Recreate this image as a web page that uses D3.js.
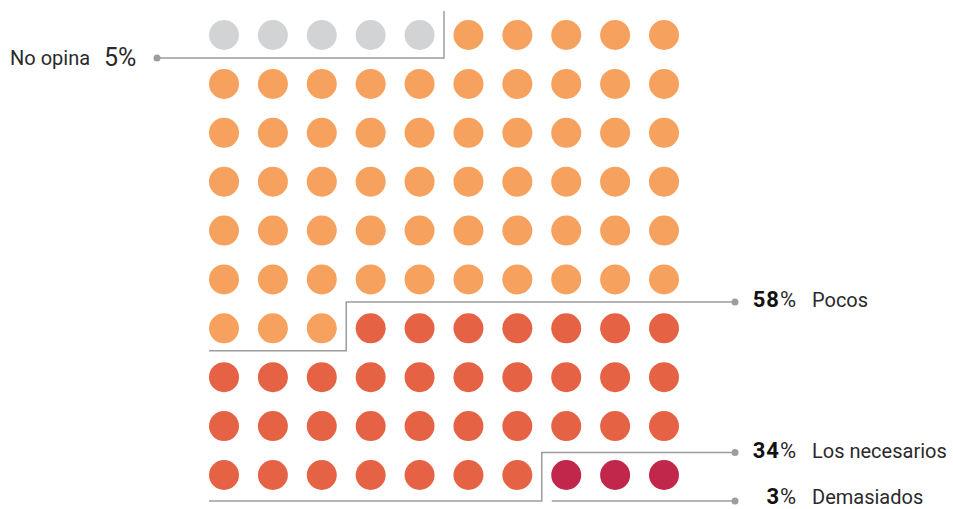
<!DOCTYPE html>
<html>
<head>
<meta charset="utf-8">
<script src="https://cdn.jsdelivr.net/npm/d3@7"></script>
<style>
  body { margin: 0; background: #fff; }
  svg text { font-family: Roboto, "DejaVu Sans", sans-serif; }
</style>
</head>
<body>
<div id="chart"></div>
<script>
// Chart data
const categories = ['No opina', 'Pocos', 'Los necesarios', 'Demasiados'];
const percentages = [5, 58, 34, 3];
const colors = ['#d1d3d4', '#f7a15e', '#e56244', '#c1264b'];
const gridSize = 10;

const width = 953, height = 509;

let svg = d3.select('#chart').append('svg')
    .attr('width', width)
    .attr('height', height);

// Point scales for the circle centres
let xScale = d3.scalePoint().domain(d3.range(gridSize)).range([224, 664]);
let yScale = d3.scalePoint().domain(d3.range(gridSize)).range([35, 475]);
let step = xScale.step();
let radius = 15;

// Build one cell per percent point
let cells = [];
let cum = 0;
categories.forEach((c, ci) => {
    for (let k = 0; k < percentages[ci]; k++) {
        let i = cum + k;
        cells.push({ i: i, row: Math.floor(i / gridSize), col: i % gridSize, cat: ci });
    }
    cum += percentages[ci];
});

svg.append('g').selectAll('circle')
    .data(cells)
    .enter()
    .append('circle')
    .attr('cx', d => xScale(d.col))
    .attr('cy', d => yScale(d.row))
    .attr('r', radius)
    .attr('fill', d => colors[d.cat]);

// Boundary helpers (gap between columns / rows)
const xb = c => xScale(c) + step / 2;
const yb = r => yScale(r) + step / 2 - 1;
const left = xScale(0) - radius;
const bottom = yScale(gridSize - 1) + radius + 11;
const dotX = 735;

let ends = d3.cumsum(percentages);
let lineColor = '#9d9d9d';

function lineTo(points) {
    svg.append('path')
        .attr('d', d3.line()(points))
        .attr('fill', 'none')
        .attr('stroke', lineColor)
        .attr('stroke-width', 1.5);
}
function dot(x, y) {
    svg.append('circle').attr('cx', x).attr('cy', y).attr('r', 3.5).attr('fill', lineColor);
}

// No opina (left callout)
let n0 = ends[0];
let yNo = yb(0) - 0.5;
lineTo([[157, yNo], [xb(n0 % gridSize - 1), yNo], [xb(n0 % gridSize - 1), 11]]);
dot(157, yNo);

// Pocos
let n1 = ends[1], r1 = Math.floor(n1 / gridSize), k1 = n1 % gridSize;
let yPocos = yb(r1 - 1) - 1;
lineTo([[left, yb(r1) - 1], [xb(k1 - 1), yb(r1) - 1], [xb(k1 - 1), yPocos], [dotX, yPocos]]);
dot(dotX, yPocos);

// Los necesarios
let n2 = ends[2], r2 = Math.floor(n2 / gridSize), k2 = n2 % gridSize;
let yNec = yb(r2 - 1) + 3;
lineTo([[left, bottom], [xb(k2 - 1), bottom], [xb(k2 - 1), yNec], [dotX, yNec]]);
dot(dotX, yNec);

// Demasiados
lineTo([[xb(k2 - 1) + 10, bottom], [dotX, bottom]]);
dot(dotX, bottom);

// Labels
let txtColor = '#2a2a2a';
svg.append('text').attr('x', 10).attr('y', yNo + 7)
    .attr('font-size', 20).attr('fill', txtColor).text(categories[0]);
svg.append('text').attr('x', 104).attr('y', yNo + 8)
    .attr('font-size', 25).attr('fill', txtColor).text(percentages[0] + '%');

let rightLabels = [
    { y: yPocos, ci: 1 },
    { y: yNec, ci: 2 },
    { y: bottom, ci: 3 }
];
rightLabels.forEach(l => {
    let base = Math.min(l.y + 5, height - 5);
    svg.append('text').attr('x', 779).attr('y', base)
        .attr('text-anchor', 'end').attr('font-size', 22).attr('font-weight', 'bold')
        .attr('letter-spacing', 1).attr('dx', 1)
        .attr('fill', '#111').text(percentages[l.ci]);
    svg.append('text').attr('x', 780).attr('y', base)
        .attr('font-size', 22).attr('fill', txtColor).text('%');
    svg.append('text').attr('x', 812).attr('y', base)
        .attr('font-size', 20).attr('fill', txtColor).text(categories[l.ci]);
});
</script>
</body>
</html>
